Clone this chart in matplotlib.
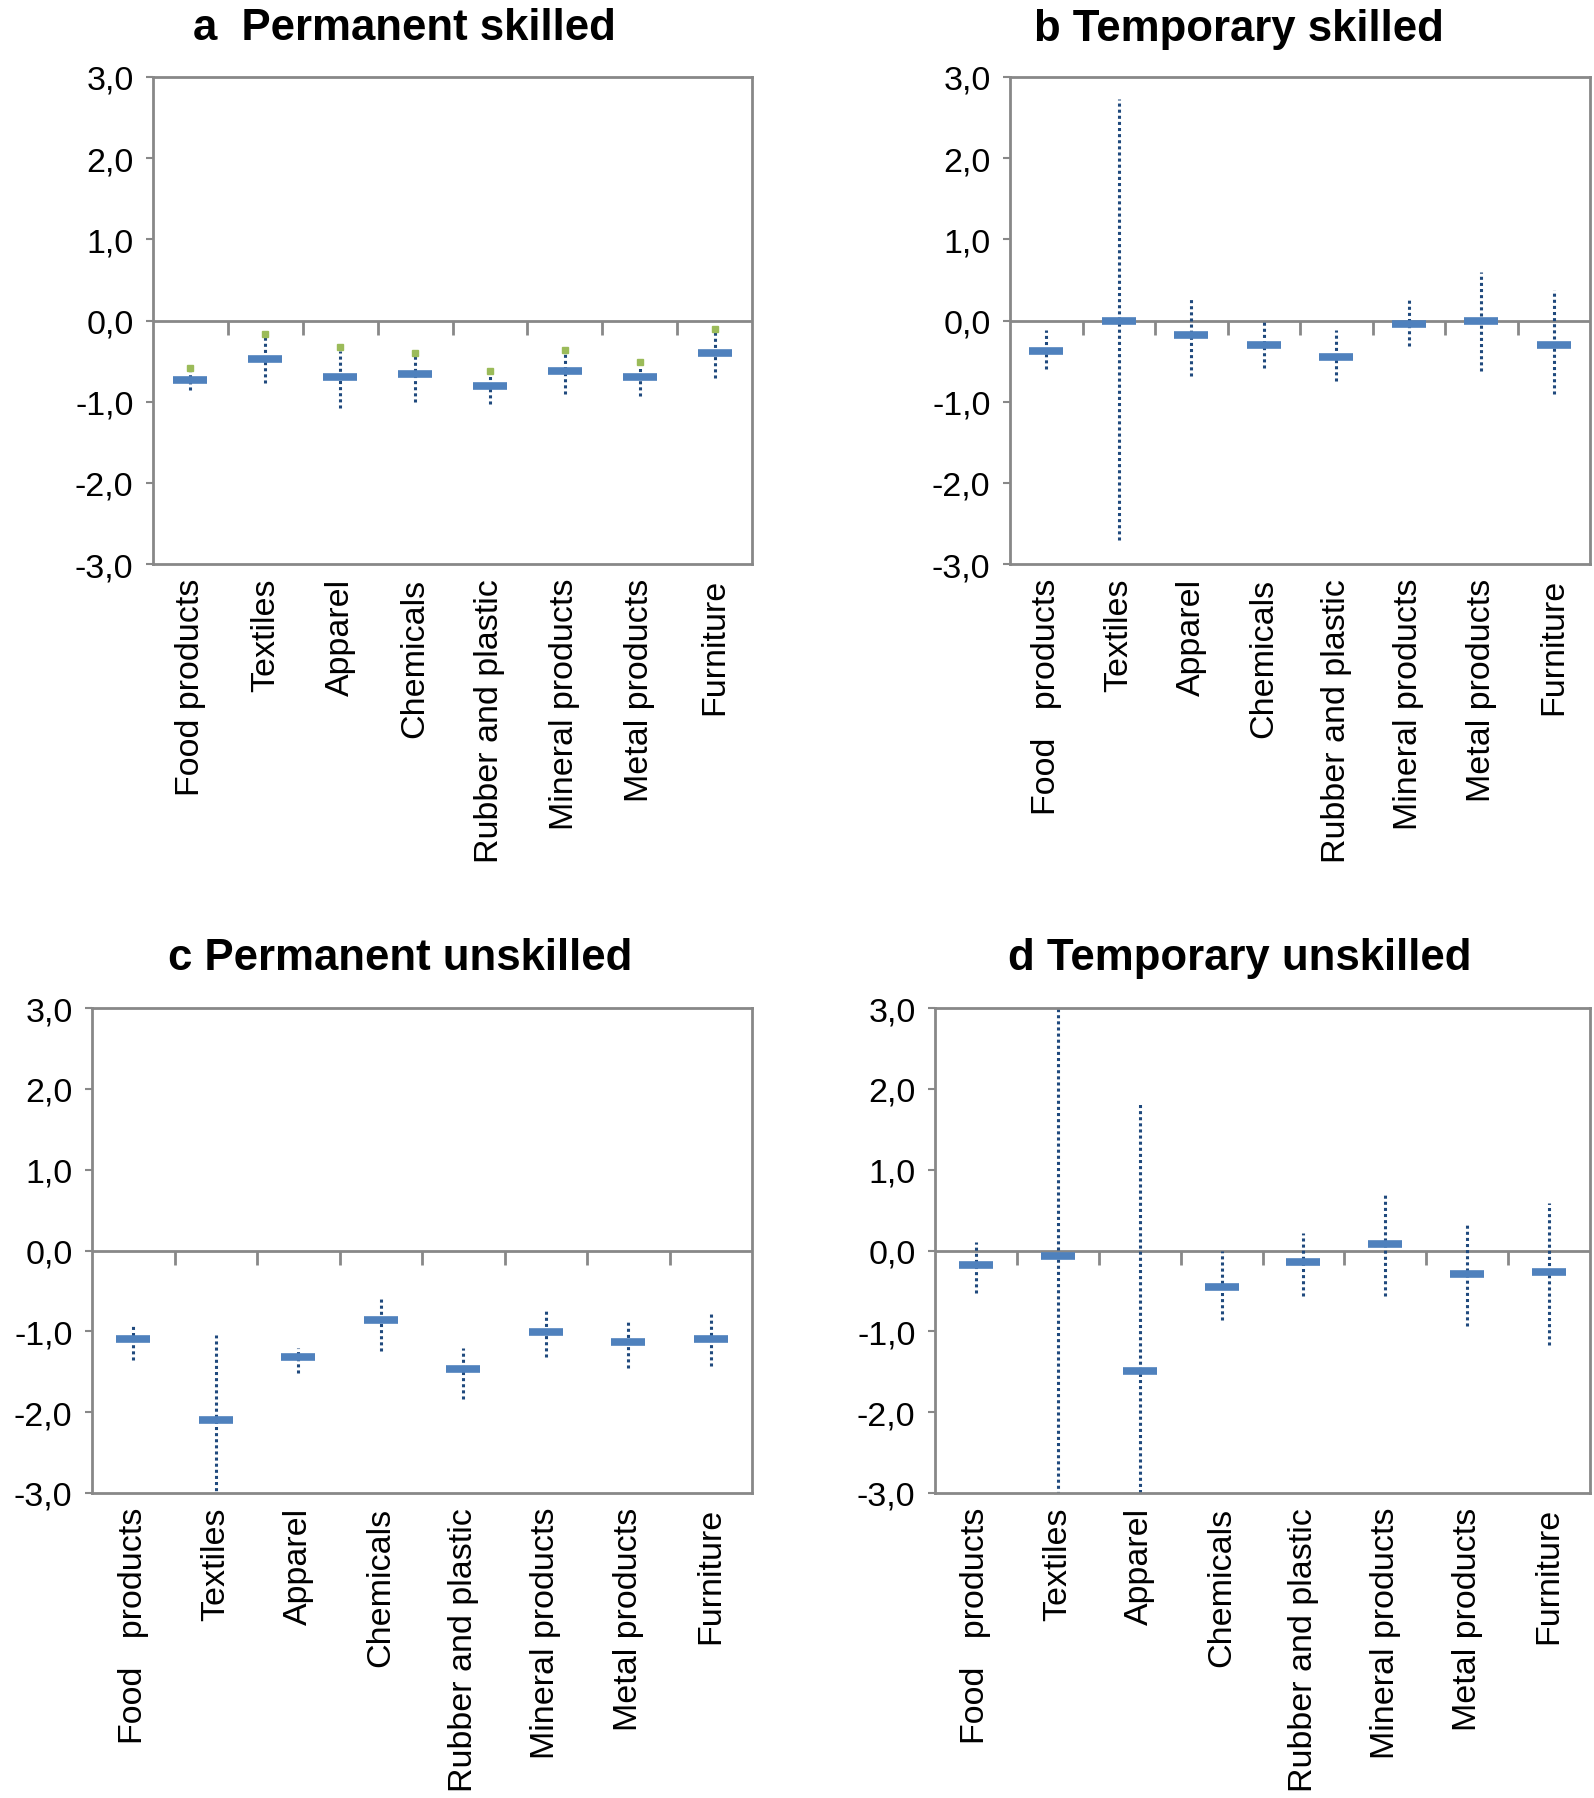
import numpy as np
import matplotlib.pyplot as plt
from matplotlib.markers import TICKDOWN

plt.rcParams['font.family'] = ['Liberation Sans', 'DejaVu Sans']

cats_a = ['Food products', 'Textiles', 'Apparel', 'Chemicals', 'Rubber and plastic',
          'Mineral products', 'Metal products', 'Furniture']
cats = ['Food   products', 'Textiles', 'Apparel', 'Chemicals', 'Rubber and plastic',
        'Mineral products', 'Metal products', 'Furniture']

# a Permanent skilled
a_mid = [-0.73, -0.47, -0.70, -0.66, -0.81, -0.62, -0.70, -0.40]
a_hi = [-0.61, -0.20, -0.37, -0.43, -0.65, -0.39, -0.54, -0.12]
a_lo = [-0.86, -0.77, -1.08, -1.00, -1.03, -0.91, -0.93, -0.71]
a_pt = [-0.58, -0.17, -0.33, -0.40, -0.62, -0.36, -0.51, -0.10]

# b Temporary skilled
b_mid = [-0.37, 0.00, -0.18, -0.30, -0.45, -0.04, 0.00, -0.30]
b_hi = [-0.12, 2.73, 0.29, 0.00, -0.12, 0.26, 0.60, 0.37]
b_lo = [-0.60, -2.71, -0.68, -0.59, -0.75, -0.32, -0.62, -0.91]

# c Permanent unskilled
c_mid = [-1.09, -2.10, -1.32, -0.86, -1.46, -1.01, -1.13, -1.09]
c_hi = [-0.91, -1.05, -1.20, -0.59, -1.20, -0.75, -0.86, -0.79]
c_lo = [-1.35, -3.20, -1.51, -1.24, -1.84, -1.32, -1.45, -1.43]

# d Temporary unskilled
d_mid = [-0.18, -0.07, -1.49, -0.45, -0.14, 0.08, -0.29, -0.26]
d_hi = [0.11, 3.40, 1.83, -0.01, 0.22, 0.71, 0.33, 0.59]
d_lo = [-0.53, -3.40, -3.30, -0.86, -0.56, -0.56, -0.93, -1.17]

yticks = [3, 2, 1, 0, -1, -2, -3]
ylabels = ['3,0', '2,0', '1,0', '0,0', '-1,0', '-2,0', '-3,0']

W, H = 1594, 1799
fig = plt.figure(figsize=(W / 100, H / 100), dpi=100)

gray = '#888888'
blue = '#4F81BD'
dark = '#1F497D'
green = '#9BBB59'


def panel(rect, labels, mid, hi, lo, pts=None):
    ax = fig.add_axes(rect)
    x = np.arange(len(labels))
    ax.set_xlim(-0.5, len(labels) - 0.5)
    ax.set_ylim(-3, 3)
    ax.vlines(x, lo, hi, colors=dark, linewidth=2.2, linestyles=(0, (1, 1)), zorder=2)
    ax.plot(x, mid, linestyle='none', marker='_', markersize=24, markeredgewidth=5.5,
            color=blue, zorder=3)
    if pts is not None:
        ax.plot(x, pts, linestyle='none', marker='s', markersize=5, color=green, zorder=4)
    # category axis crossing at zero, tick marks between categories
    ax.axhline(0, color=gray, linewidth=2, zorder=1)
    bounds = x[:-1] + 0.5
    ax.plot(bounds, np.zeros_like(bounds), linestyle='none', marker=TICKDOWN,
            markersize=10, markeredgewidth=2, color=gray, zorder=1)
    for s in ax.spines.values():
        s.set_color(gray)
        s.set_linewidth(2)
    ax.set_yticks(yticks)
    ax.set_yticklabels(ylabels, fontsize=24.5)
    ax.tick_params(axis='y', direction='out', length=5, width=1.5, color=gray, pad=9)
    ax.set_xticks(x)
    ax.set_xticklabels(labels, rotation=90, fontsize=24.5)
    ax.tick_params(axis='x', length=0, pad=10)
    return ax


panel([153 / W, 1 - 565 / H, 599 / W, 487 / H], cats_a, a_mid, a_hi, a_lo, a_pt)
panel([1010 / W, 1 - 565 / H, 580 / W, 487 / H], cats, b_mid, b_hi, b_lo)
panel([92 / W, 1 - 1494 / H, 660 / W, 485 / H], cats, c_mid, c_hi, c_lo)
panel([935 / W, 1 - 1494 / H, 655 / W, 485 / H], cats, d_mid, d_hi, d_lo)

fig.text(404 / W, 1 - 29 / H, 'a  Permanent skilled', fontsize=31.5, fontweight='bold',
         ha='center', va='center')
fig.text(1239 / W, 1 - 29 / H, 'b Temporary skilled', fontsize=31.5, fontweight='bold',
         ha='center', va='center')
fig.text(400 / W, 1 - 959 / H, 'c Permanent unskilled', fontsize=31.5, fontweight='bold',
         ha='center', va='center')
fig.text(1240 / W, 1 - 959 / H, 'd Temporary unskilled', fontsize=31.5, fontweight='bold',
         ha='center', va='center')

fig.savefig('out.png', dpi=100)
